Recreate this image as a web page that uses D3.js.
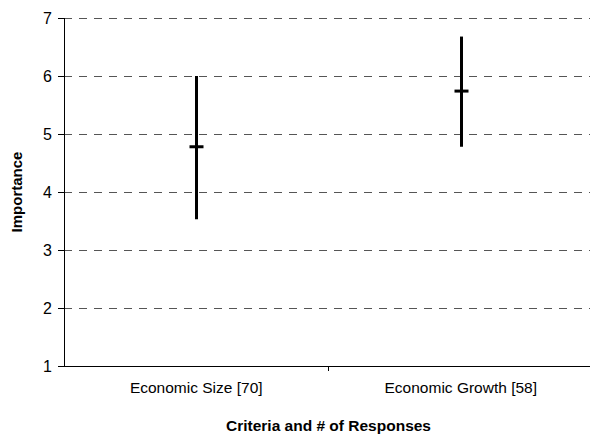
<!DOCTYPE html>
<html><head><meta charset="utf-8">
<script src="https://cdn.jsdelivr.net/npm/d3@7"></script>
<style>body{margin:0;background:#fff;overflow:hidden}svg{display:block}text{font-family:"Liberation Sans",Arial,sans-serif}</style>
</head><body>
<svg id="c" width="590" height="442"></svg>
<script>
const categories = ["Economic Size [70]", "Economic Growth [58]"];
const lowValues  = [3.53, 4.78];
const midValues  = [4.78, 5.74];
const highValues = [6.0, 6.68];
const yTicks = [1, 2, 3, 4, 5, 6, 7];

const svg = d3.select("#c");
const m = {l: 64, t: 18, r: 593, b: 366};
const x = d3.scaleBand().domain(categories).range([m.l, m.r]);
const y = d3.scaleLinear().domain([1, 7]).range([m.b, m.t]);

// grid
svg.append("g").selectAll("line").data(yTicks.filter(d => d > 1)).join("line")
  .attr("x1", m.l).attr("x2", m.r)
  .attr("y1", d => y(d)).attr("y2", d => y(d))
  .attr("stroke", "#555").attr("stroke-width", 1).attr("stroke-dasharray", "8,7")
  .attr("shape-rendering", "crispEdges");

// y axis
const ya = svg.append("g").attr("transform", `translate(${m.l},0)`)
  .call(d3.axisLeft(y).tickValues(yTicks).tickSize(6).tickPadding(6).tickFormat(d3.format("d")));
ya.select(".domain").attr("d", `M0,${m.t}V${m.b}`).attr("stroke", "#000");
ya.selectAll(".tick line").attr("stroke", "#000");
ya.selectAll("text").attr("font-size", 16).attr("fill", "#000").attr("font-family", "Liberation Sans, Arial, sans-serif");
ya.selectAll("path,line").attr("shape-rendering", "crispEdges");

// x axis
const xa = svg.append("g").attr("transform", `translate(0,${m.b})`)
  .call(d3.axisBottom(x).tickSize(0).tickPadding(16));
xa.select(".domain").attr("d", `M${m.l},0H${m.r}`).attr("stroke", "#000").attr("shape-rendering", "crispEdges");
xa.selectAll("text").attr("font-size", 15.5).attr("fill", "#000").attr("font-family", "Liberation Sans, Arial, sans-serif");
// category separator tick
svg.append("line").attr("x1", m.l + x.step()).attr("x2", m.l + x.step())
  .attr("y1", m.b).attr("y2", m.b + 5).attr("stroke", "#000").attr("shape-rendering", "crispEdges");

// range bars
const g = svg.append("g");
categories.forEach((c, i) => {
  const cx = Math.round(x(c) + x.bandwidth() / 2) + 0.5;
  g.append("line").attr("x1", cx).attr("x2", cx)
    .attr("y1", y(lowValues[i])).attr("y2", y(highValues[i]))
    .attr("stroke", "#000").attr("stroke-width", 3);
  g.append("line").attr("x1", cx - 7).attr("x2", cx + 7)
    .attr("y1", y(midValues[i])).attr("y2", y(midValues[i]))
    .attr("stroke", "#000").attr("stroke-width", 3);
});

// axis titles
svg.append("text").attr("x", (m.l + m.r) / 2).attr("y", 431)
  .attr("text-anchor", "middle").attr("font-size", 15.5).attr("font-weight", "bold")
  .text("Criteria and # of Responses");
svg.append("text").attr("transform", `translate(22,${(m.t + m.b) / 2}) rotate(-90)`)
  .attr("text-anchor", "middle").attr("font-size", 15).attr("font-weight", "bold")
  .text("Importance");
</script>
</body></html>
